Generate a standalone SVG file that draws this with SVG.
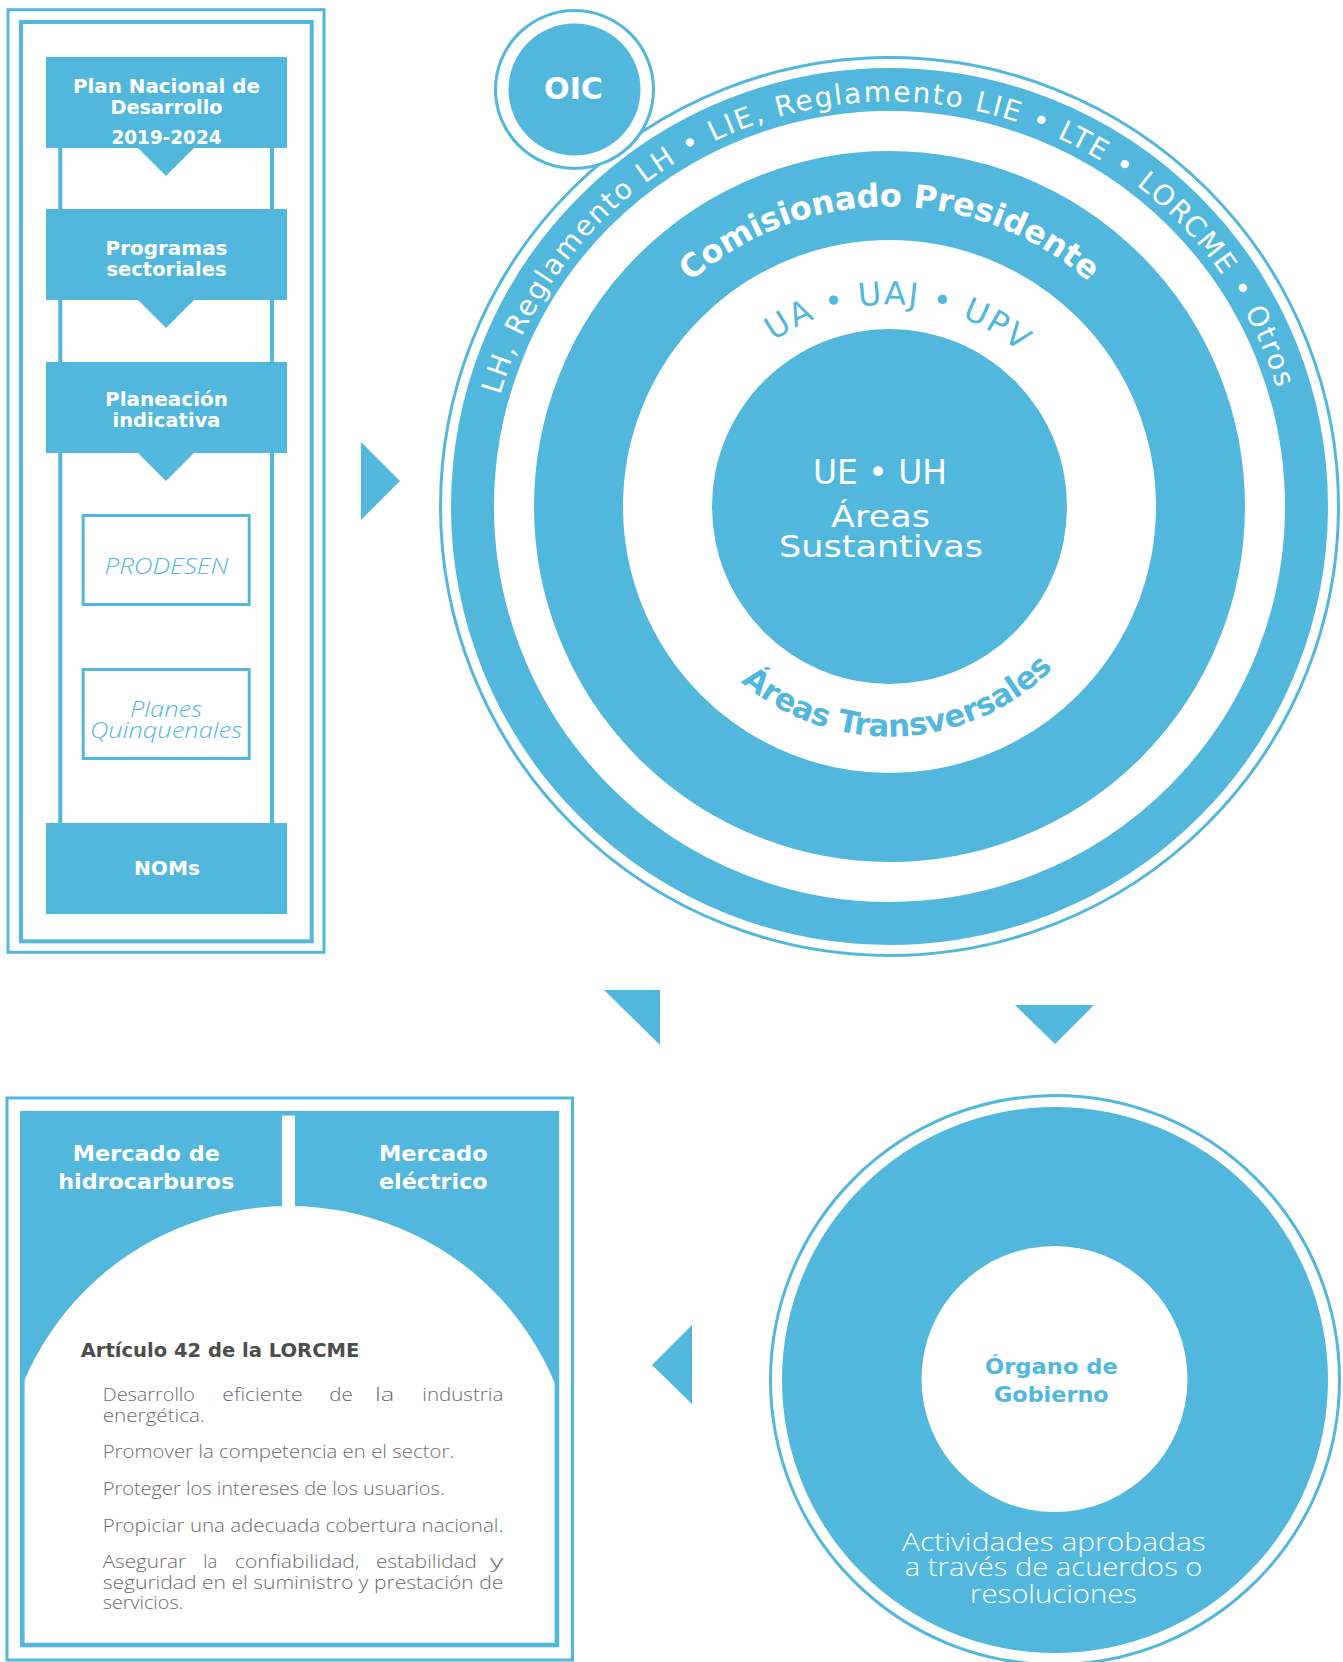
<svg xmlns="http://www.w3.org/2000/svg" width="1343" height="1662" viewBox="0 0 1343 1662">
<style>
.bf{fill:#52B7DC}
.bs{fill:none;stroke:#52B7DC}
.wf{fill:#fff}
.hb{font-family:"DejaVu Sans","Liberation Sans",sans-serif;font-weight:bold;fill:#fff;text-anchor:middle}
.rg{font-family:"DejaVu Sans","Liberation Sans",sans-serif;fill:#fff}
.it{font-family:"Open Sans","DejaVu Sans",sans-serif;font-style:italic;font-weight:300;fill:#52B7DC;text-anchor:middle;font-size:22px}
.bd{font-family:"Open Sans","DejaVu Sans",sans-serif;font-weight:300;fill:#6b6b6b;font-size:18.5px}
.lt{font-family:"Open Sans","DejaVu Sans",sans-serif;font-weight:300;fill:#fff;text-anchor:middle;font-size:26px}
</style>
<defs>
<path id="pOuter" d="M 484.5 506.5 A 405 405 0 0 1 1294.5 506.5" fill="none"/>
<path id="pCom" d="M 589.5 506.5 A 300 300 0 0 1 1189.5 506.5" fill="none"/>
<path id="pUA" d="M 687.5 506.5 A 202 202 0 0 1 1091.5 506.5" fill="none"/>
<path id="pAT" d="M 659.5 506.5 A 230 230 0 0 0 1119.5 506.5" fill="none"/>
</defs>

<!-- Left column -->
<g id="columna-planeacion">
  <rect class="bs" x="8" y="9.7" width="316" height="942.6" stroke-width="3"/>
  <rect class="bs" x="21" y="22" width="290.7" height="919.3" stroke-width="4"/>
  <line x1="60.3" y1="148" x2="60.3" y2="823" stroke="#52B7DC" stroke-width="4"/>
  <line x1="272" y1="148" x2="272" y2="823" stroke="#52B7DC" stroke-width="4"/>
</g>
<g id="plan-nacional">
  <rect class="bf" x="46" y="57" width="241" height="91"/>
  <text class="hb" font-size="20" x="166.5" y="93" textLength="187" lengthAdjust="spacingAndGlyphs">Plan Nacional de</text>
  <text class="hb" font-size="20" x="166.5" y="114" textLength="112" lengthAdjust="spacingAndGlyphs">Desarrollo</text>
  <text class="hb" font-size="20" x="166.5" y="144" textLength="110" lengthAdjust="spacingAndGlyphs">2019-2024</text>
</g>
<g id="programas-sectoriales">
  <rect class="bf" x="46" y="209" width="241" height="91"/>
  <text class="hb" font-size="20" x="166.5" y="255" textLength="122" lengthAdjust="spacingAndGlyphs">Programas</text>
  <text class="hb" font-size="20" x="166.5" y="276" textLength="120" lengthAdjust="spacingAndGlyphs">sectoriales</text>
</g>
<g id="planeacion-indicativa">
  <rect class="bf" x="46" y="362" width="241" height="91"/>
  <text class="hb" font-size="20" x="166.5" y="406" textLength="123" lengthAdjust="spacingAndGlyphs">Planeación</text>
  <text class="hb" font-size="20" x="166.5" y="427" textLength="108" lengthAdjust="spacingAndGlyphs">indicativa</text>
</g>
<g id="prodesen">
  <rect x="83.2" y="515.5" width="166" height="89" fill="#fff" stroke="#52B7DC" stroke-width="3"/>
  <text class="it" x="166.5" y="574" textLength="124" lengthAdjust="spacingAndGlyphs">PRODESEN</text>
</g>
<g id="planes-quinquenales">
  <rect x="83.2" y="669.5" width="166" height="89" fill="#fff" stroke="#52B7DC" stroke-width="3"/>
  <text class="it" x="166" y="717" textLength="72" lengthAdjust="spacingAndGlyphs">Planes</text>
  <text class="it" x="166" y="738" textLength="152" lengthAdjust="spacingAndGlyphs">Quinquenales</text>
</g>
<g id="noms">
  <rect class="bf" x="46" y="823" width="241" height="91"/>
  <text class="hb" font-size="20" x="167" y="875" textLength="66" lengthAdjust="spacingAndGlyphs">NOMs</text>
</g>

<!-- Big circle -->
<g id="estructura-cre">
  <circle class="bs" cx="889.5" cy="506.5" r="449" stroke-width="3"/>
  <circle class="bs" cx="889.5" cy="506.5" r="417" stroke-width="43"/>
  <circle class="bs" cx="889.5" cy="506.5" r="311" stroke-width="89"/>
  <circle class="bf" cx="889.5" cy="506.5" r="177.5"/>
  <text class="rg" font-size="28" text-anchor="middle"><textPath href="#pOuter" startOffset="49.7%" textLength="1039" lengthAdjust="spacing">LH, Reglamento LH • LIE, Reglamento LIE • LTE • LORCME • Otros</textPath></text>
  <text class="rg" font-size="32" font-weight="bold" text-anchor="middle"><textPath href="#pCom" startOffset="50%" textLength="435" lengthAdjust="spacing">Comisionado Presidente</textPath></text>
  <text class="rg" font-size="32" text-anchor="middle" style="fill:#52B7DC"><textPath href="#pUA" startOffset="51.4%" textLength="265" lengthAdjust="spacing">UA • UAJ • UPV</textPath></text>
  <text class="rg" font-size="31" font-weight="bold" text-anchor="middle" style="fill:#52B7DC"><textPath href="#pAT" startOffset="51.4%" textLength="344" lengthAdjust="spacing">Áreas Transversales</textPath></text>
  <text class="rg" font-size="34" text-anchor="middle" x="880" y="484" textLength="134" lengthAdjust="spacingAndGlyphs">UE • UH</text>
  <text class="rg" font-size="31" text-anchor="middle" x="880.5" y="527" textLength="99" lengthAdjust="spacingAndGlyphs">Áreas</text>
  <text class="rg" font-size="31" text-anchor="middle" x="881" y="557" textLength="204" lengthAdjust="spacingAndGlyphs">Sustantivas</text>
</g>
<g id="oic">
  <circle cx="574.5" cy="89.5" r="79" fill="#fff" stroke="#52B7DC" stroke-width="3"/>
  <circle class="bf" cx="574.5" cy="89.5" r="66"/>
  <text class="hb" font-size="30" x="573.5" y="99" textLength="59" lengthAdjust="spacingAndGlyphs">OIC</text>
</g>

<!-- Bottom-left box -->
<g id="mercados">
  <rect class="bf" x="20" y="1111" width="539" height="280"/>
  <circle class="wf" cx="289" cy="1494" r="288"/>
  <rect class="wf" x="282" y="1115" width="13" height="92"/>
  <rect class="bs" x="22.3" y="1113.3" width="534.6" height="531.7" stroke-width="4.6"/>
  <rect class="bs" x="7" y="1098" width="565.5" height="562" stroke-width="3"/>
  <text class="hb" font-size="22" x="146.3" y="1160.7" textLength="147" lengthAdjust="spacingAndGlyphs">Mercado de</text>
  <text class="hb" font-size="22" x="146.2" y="1189.3" textLength="176" lengthAdjust="spacingAndGlyphs">hidrocarburos</text>
  <text class="hb" font-size="22" x="433.3" y="1160.7" textLength="108.7" lengthAdjust="spacingAndGlyphs">Mercado</text>
  <text class="hb" font-size="22" x="433.3" y="1189.3" textLength="108.7" lengthAdjust="spacingAndGlyphs">eléctrico</text>
  <text x="80.7" y="1356.7" font-family="DejaVu Sans, sans-serif" font-weight="bold" font-size="20" fill="#4d4d4d" textLength="278.6" lengthAdjust="spacingAndGlyphs">Artículo 42 de la LORCME</text>
  <text class="bd" x="102.7" y="1400.7" textLength="92.3" lengthAdjust="spacingAndGlyphs">Desarrollo</text>
  <text class="bd" x="222.3" y="1400.7" textLength="80.4" lengthAdjust="spacingAndGlyphs">eficiente</text>
  <text class="bd" x="329.3" y="1400.7" textLength="23.4" lengthAdjust="spacingAndGlyphs">de</text>
  <text class="bd" x="375" y="1400.7" textLength="19.3" lengthAdjust="spacingAndGlyphs">la</text>
  <text class="bd" x="422.3" y="1400.7" textLength="81" lengthAdjust="spacingAndGlyphs">industria</text>
  <text class="bd" x="102.7" y="1421.7" textLength="102.3" lengthAdjust="spacingAndGlyphs">energética.</text>
  <text class="bd" x="102.7" y="1458.3" textLength="351.6" lengthAdjust="spacingAndGlyphs">Promover la competencia en el sector.</text>
  <text class="bd" x="102.7" y="1495" textLength="342" lengthAdjust="spacingAndGlyphs">Proteger los intereses de los usuarios.</text>
  <text class="bd" x="102.7" y="1531.7" textLength="400.6" lengthAdjust="spacingAndGlyphs">Propiciar una adecuada cobertura nacional.</text>
  <text class="bd" x="102.7" y="1568.3" textLength="83.3" lengthAdjust="spacingAndGlyphs">Asegurar</text>
  <text class="bd" x="203.3" y="1568.3" textLength="14" lengthAdjust="spacingAndGlyphs">la</text>
  <text class="bd" x="235" y="1568.3" textLength="124.3" lengthAdjust="spacingAndGlyphs">confiabilidad,</text>
  <text class="bd" x="376" y="1568.3" textLength="100.7" lengthAdjust="spacingAndGlyphs">estabilidad</text>
  <text class="bd" x="490" y="1568.3" textLength="13.3" lengthAdjust="spacingAndGlyphs">y</text>
  <text class="bd" x="102.7" y="1589.3" textLength="400.6" lengthAdjust="spacingAndGlyphs">seguridad en el suministro y prestación de</text>
  <text class="bd" x="102.7" y="1609.3" textLength="80.6" lengthAdjust="spacingAndGlyphs">servicios.</text>
</g>

<!-- Bottom-right circle -->
<g id="organo-gobierno">
  <circle class="bs" cx="1055" cy="1380" r="284.5" stroke-width="3"/>
  <circle class="bf" cx="1055" cy="1380" r="273"/>
  <circle class="wf" cx="1054.5" cy="1379" r="133"/>
  <text class="hb" font-size="22" x="1051.4" y="1374" textLength="133" lengthAdjust="spacingAndGlyphs" style="fill:#52B7DC">Órgano de</text>
  <text class="hb" font-size="22" x="1051.3" y="1402" textLength="114.6" lengthAdjust="spacingAndGlyphs" style="fill:#52B7DC">Gobierno</text>
  <text class="lt" x="1053.9" y="1551" textLength="303.7" lengthAdjust="spacingAndGlyphs">Actividades aprobadas</text>
  <text class="lt" x="1053.6" y="1576" textLength="297.6" lengthAdjust="spacingAndGlyphs">a través de acuerdos o</text>
  <text class="lt" x="1053.5" y="1602.7" textLength="167" lengthAdjust="spacingAndGlyphs">resoluciones</text>
</g>

<!-- Connectors -->
<g id="conectores" class="bf">
  <polygon points="138,148 194,148 166,176"/>
  <polygon points="138,300 194,300 166,328"/>
  <polygon points="138,453 194,453 166,481"/>
  <polygon points="361,442 361,520 400,481"/>
  <polygon points="604,990 660,990 660,1045"/>
  <polygon points="1015,1005 1094,1005 1055,1044"/>
  <polygon points="692,1325 692,1404 652,1365"/>
</g>
</svg>
